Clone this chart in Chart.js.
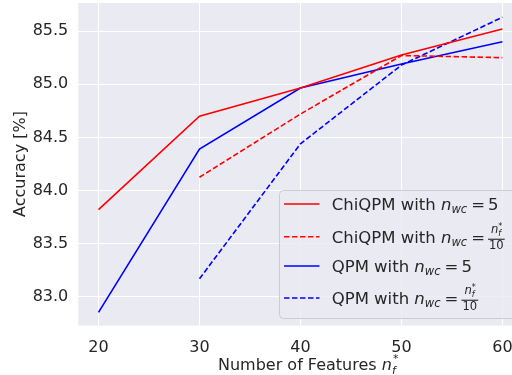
<!DOCTYPE html>
<html>
<head>
<meta charset="utf-8">
<script src="https://cdn.jsdelivr.net/npm/chart.js@4.4.1/dist/chart.umd.min.js"></script>
<style>
  html, body { margin: 0; padding: 0; background: #fff; }
  canvas { display: block; }
</style>
</head>
<body>
<canvas id="accChart" width="512" height="375"></canvas>
<script>
// values
const nFeatures = [20, 30, 40, 50, 60];
const chiqpmFixed = [83.82, 84.70, 84.965, 85.275, 85.52];
const chiqpmScaled = [null, 84.125, 84.72, 85.27, 85.25];
const qpmFixed = [82.855, 84.39, 84.965, 85.19, 85.40];
const qpmScaled = [null, 83.17, 84.44, 85.18, 85.63];

const xTickValues = [20, 30, 40, 50, 60];
const yTickValues = [83.0, 83.5, 84.0, 84.5, 85.0, 85.5];

const legendNames = ['ChiQPM with', 'ChiQPM with', 'QPM with', 'QPM with'];
const legendNwc = ['5', 'frac', '5', 'frac'];

const FONT = "'DejaVu Sans'";
const TXT = '#262626';

function toPoints(vals) {
    return nFeatures.map((x, i) => ({x: x, y: vals[i]})).filter(p => p.y !== null);
}

var seriesList = [
    {label: 'ChiQPM nwc=5', data: chiqpmFixed, color: '#ff0000', dash: []},
    {label: 'ChiQPM nwc=nf/10', data: chiqpmScaled, color: '#ff0000', dash: [5.5, 2.5]},
    {label: 'QPM nwc=5', data: qpmFixed, color: '#0000ff', dash: []},
    {label: 'QPM nwc=nf/10', data: qpmScaled, color: '#0000ff', dash: [5.5, 2.5]}
];

// italic n with subscript wc, returns new x
function drawNwc(ctx, x, y, size) {
    ctx.font = 'italic ' + size + 'px ' + FONT;
    ctx.fillText('n', x, y);
    x += ctx.measureText('n').width;
    ctx.font = 'italic ' + (size * 0.7) + 'px ' + FONT;
    ctx.fillText('wc', x, y + size * 0.22);
    return x + ctx.measureText('wc').width;
}

// n_f^* / 10 fraction
function drawFrac(ctx, x, y, size) {
    var small = size * 0.7;
    ctx.font = small + 'px ' + FONT;
    var w = ctx.measureText('10').width + 2;
    var barY = y - size * 0.2;
    ctx.fillRect(x, barY - 0.5, w, 1.1);
    ctx.fillText('10', x + 1, y + size * 0.42);
    ctx.font = 'italic ' + small + 'px ' + FONT;
    var nx = x + 3;
    var ny = y - size * 0.55;
    ctx.fillText('n', nx, ny);
    nx += ctx.measureText('n').width;
    ctx.font = 'italic ' + (small * 0.7) + 'px ' + FONT;
    ctx.fillText('f', nx, ny + 2.5);
    ctx.fillText('*', nx, ny - 4);
    return x + w;
}

const decorPlugin = {
    id: 'decor',
    beforeDraw(chart) {
        var ctx = chart.ctx, a = chart.chartArea;
        ctx.save();
        ctx.fillStyle = '#ffffff';
        ctx.fillRect(0, 0, chart.width, chart.height);
        ctx.fillStyle = '#eaeaf2';
        ctx.fillRect(a.left, a.top, a.right - a.left, a.bottom - a.top);
        ctx.restore();
    },
    afterDraw(chart) {
        var ctx = chart.ctx;
        ctx.save();
        ctx.fillStyle = TXT;
        ctx.textBaseline = 'alphabetic';
        ctx.textAlign = 'left';

        // y title
        ctx.save();
        ctx.translate(25, 164);
        ctx.rotate(-Math.PI / 2);
        ctx.textAlign = 'center';
        ctx.font = '16px ' + FONT;
        ctx.fillText('Accuracy [%]', 0, 0);
        ctx.restore();

        // x title
        var tx = 218;
        var ty = 370;
        ctx.font = '16px ' + FONT;
        ctx.fillText('Number of Features ', tx, ty);
        tx += ctx.measureText('Number of Features ').width;
        ctx.font = 'italic 16px ' + FONT;
        ctx.fillText('n', tx, ty);
        tx += ctx.measureText('n').width;
        ctx.font = 'italic 11px ' + FONT;
        ctx.fillText('f', tx, ty + 3.5);
        ctx.fillText('*', tx + 1, ty - 8);

        // legend box
        var bx = 279, by = 190, bw = 250, bh = 128;
        ctx.beginPath();
        ctx.roundRect(bx + 0.5, by + 0.5, bw, bh, 4);
        ctx.fillStyle = 'rgba(234,234,242,0.8)';
        ctx.fill();
        ctx.strokeStyle = '#cccccc';
        ctx.lineWidth = 1;
        ctx.stroke();

        var rowLine = [204, 236.7, 266, 298];
        var rowBase = [209.5, 242.5, 271.5, 303.5];
        var size = 16.5;
        for (var i = 0; i < seriesList.length; i++) {
            var s = seriesList[i];
            ctx.beginPath();
            ctx.strokeStyle = s.color;
            ctx.lineWidth = 1.6;
            ctx.setLineDash(s.dash);
            ctx.moveTo(284, rowLine[i]);
            ctx.lineTo(319.5, rowLine[i]);
            ctx.stroke();
            ctx.setLineDash([]);

            ctx.fillStyle = TXT;
            var x = 331.7;
            ctx.font = size + 'px ' + FONT;
            ctx.fillText(legendNames[i] + ' ', x, rowBase[i]);
            x += ctx.measureText(legendNames[i] + ' ').width;
            x = drawNwc(ctx, x, rowBase[i], size);
            x += 4;
            ctx.font = size + 'px ' + FONT;
            ctx.fillText('=', x, rowBase[i]);
            x += ctx.measureText('=').width + 3;
            if (legendNwc[i] === 'frac') {
                drawFrac(ctx, x, rowBase[i], size);
            } else {
                ctx.fillText(legendNwc[i], x, rowBase[i]);
            }
        }
        ctx.restore();
    }
};

var accChart = new Chart(document.getElementById('accChart'), {
    type: 'line',
    data: {
        datasets: seriesList.map(s => ({
            label: s.label,
            data: toPoints(s.data),
            borderColor: s.color,
            backgroundColor: s.color,
            borderDash: s.dash,
            borderWidth: 1.6,
            pointRadius: 0,
            tension: 0,
            fill: false
        }))
    },
    options: {
        responsive: false,
        animation: false,
        layout: {padding: {top: 3, left: 0, right: 0, bottom: 0}},
        plugins: {legend: {display: false}, tooltip: {enabled: false}},
        scales: {
            x: {
                type: 'linear',
                min: 18,
                max: 60.95,
                border: {display: false},
                grid: {color: '#ffffff', lineWidth: 1, drawTicks: false},
                ticks: {
                    padding: 13,
                    color: TXT,
                    font: {family: FONT, size: 16},
                    callback: v => String(v)
                },
                afterBuildTicks: s => { s.ticks = xTickValues.map(v => ({value: v})); },
                afterFit: s => { s.height = 49.5; s.paddingLeft = 0; s.paddingRight = 0; }
            },
            y: {
                type: 'linear',
                min: 82.731,
                max: 85.764,
                border: {display: false},
                grid: {color: '#ffffff', lineWidth: 1, drawTicks: false},
                ticks: {
                    padding: 10,
                    color: TXT,
                    font: {family: FONT, size: 16},
                    callback: v => Number(v).toFixed(1)
                },
                afterBuildTicks: s => { s.ticks = yTickValues.map(v => ({value: v})); },
                afterFit: s => { s.width = 78.3; s.paddingTop = 0; s.paddingBottom = 0; }
            }
        }
    },
    plugins: [decorPlugin]
});
</script>
</body>
</html>
